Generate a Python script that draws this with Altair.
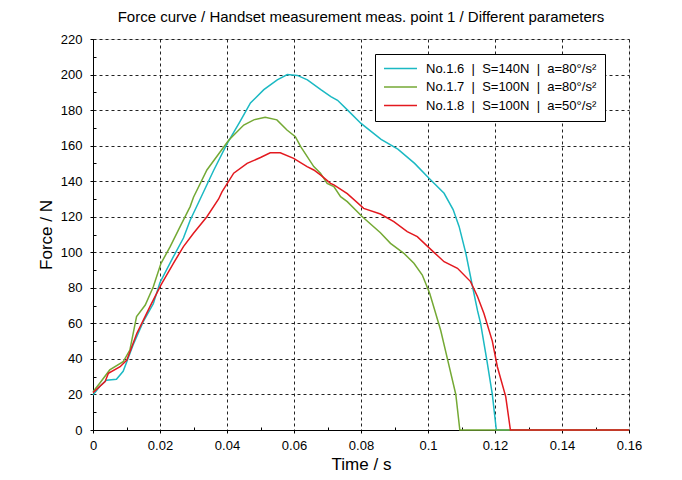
import altair as alt
import pandas as pd

# ---------------- data ----------------
SEP = "\u00a0\u00a0|\u00a0\u00a0"
series_names = [
    "No.1.6" + SEP + "S=140N" + SEP + "a=80°/s²",
    "No.1.7" + SEP + "S=100N" + SEP + "a=80°/s²",
    "No.1.8" + SEP + "S=100N" + SEP + "a=50°/s²",
]
series_colors = ["#1bb9c3", "#74a934", "#e3191f"]

t16 = [0.000, 0.002, 0.004, 0.007, 0.009, 0.010, 0.012, 0.015, 0.018, 0.020,
       0.024, 0.027, 0.029, 0.032, 0.036, 0.040, 0.044, 0.047, 0.051, 0.055,
       0.058, 0.061, 0.064, 0.068, 0.071, 0.073, 0.076, 0.080, 0.086, 0.091,
       0.096, 0.1003, 0.1048, 0.1075, 0.1093, 0.1113, 0.1133, 0.1148, 0.1157,
       0.1175, 0.1192, 0.1204, 0.160]
f16 = [19.7, 24.5, 28.0, 28.5, 33.0, 38.0, 48.0, 61.0, 71.0, 83.0,
       97.5, 108.0, 118.0, 130.0, 146.0, 161.0, 174.0, 184.0, 191.5, 197.0,
       200.0, 199.5, 197.0, 191.5, 187.6, 185.5, 180.0, 172.5, 163.5, 158.0,
       150.0, 141.6, 133.2, 124.0, 114.4, 99.4, 80.6, 67.0, 60.0,
       40.0, 20.0, 0.0, 0.0]

t17 = [0.000, 0.002, 0.005, 0.009, 0.011, 0.013, 0.0156, 0.018, 0.0203, 0.023,
       0.026, 0.029, 0.030, 0.034, 0.0405, 0.045, 0.048, 0.0514, 0.0549, 0.0579,
       0.0604, 0.062, 0.0659, 0.0679, 0.0699, 0.0719, 0.0739, 0.0759, 0.0804,
       0.0858, 0.0888, 0.0928, 0.0958, 0.0983, 0.1005, 0.1023, 0.1038, 0.1058,
       0.1083, 0.1095, 0.160]
f17 = [21.5, 26.3, 33.8, 38.4, 45.0, 63.8, 70.3, 80.6, 93.8, 103.0,
       114.4, 125.7, 131.0, 146.3, 163.0, 171.6, 174.5, 176.0, 174.5, 168.8,
       165.0, 159.4, 148.2, 144.5, 138.8, 137.0, 131.3, 128.5, 120.0,
       111.0, 105.0, 99.4, 93.8, 87.2, 76.9, 65.6, 56.0, 40.0,
       20.0, 0.0, 0.0]

t18 = [0.000, 0.0036, 0.0046, 0.0081, 0.0101, 0.0131, 0.017, 0.0203, 0.024, 0.027,
       0.030, 0.034, 0.0375, 0.0385, 0.042, 0.046, 0.050, 0.0529, 0.0559, 0.0599,
       0.0639, 0.0659, 0.0679, 0.0709, 0.0719, 0.0759, 0.0808, 0.0858, 0.0898,
       0.0938, 0.0968, 0.1005, 0.1048, 0.1088, 0.1127, 0.1148, 0.1167, 0.1192,
       0.1207, 0.1232, 0.1246, 0.160]
f18 = [21.0, 27.2, 31.9, 35.6, 39.4, 54.4, 69.4, 81.6, 93.8, 103.2,
       110.7, 120.0, 130.0, 134.0, 144.5, 150.0, 153.3, 156.0, 156.0, 152.8,
       148.2, 146.3, 143.5, 138.8, 137.9, 133.0, 124.7, 121.5, 117.2,
       111.6, 108.8, 102.2, 94.7, 91.0, 83.5, 75.0, 65.6, 50.0,
       35.6, 18.8, 0.0, 0.0]

x_major = [0, 0.02, 0.04, 0.06, 0.08, 0.1, 0.12, 0.14, 0.16]
x_minor = [0.01, 0.03, 0.05, 0.07, 0.09, 0.11, 0.13, 0.15]
y_major = [0, 20, 40, 60, 80, 100, 120, 140, 160, 180, 200, 220]
y_minor = [10, 30, 50, 70, 90, 110, 130, 150, 170, 190, 210]

# ---------------- table ----------------
rows = []
for name, ts, fs in zip(series_names, [t16, t17, t18], [f16, f17, f18]):
    for i, (t, f) in enumerate(zip(ts, fs)):
        rows.append({"series": name, "t": t, "F": f, "i": i})
df = pd.DataFrame(rows)

FONT = "Liberation Sans"
x_scale = alt.Scale(domain=[0, 0.16], nice=False, zero=False)
y_scale = alt.Scale(domain=[0, 220], nice=False, zero=False)

lines = alt.Chart(df).mark_line(strokeWidth=1.5).encode(
    x=alt.X("t:Q", scale=x_scale, axis=alt.Axis(
        values=x_major, format="~g", title="Time / s",
        grid=True, gridDash=[3, 3], gridColor="#222", gridWidth=1,
        tickSize=3, tickColor="black", domainColor="black", domainWidth=1,
        labelPadding=6, labelFontSize=13, labelColor="black", labelFont=FONT,
        titleFontSize=17, titleFontWeight="normal", titleColor="black",
        titleFont=FONT, titlePadding=4, labelFlush=False)),
    y=alt.Y("F:Q", scale=y_scale, axis=alt.Axis(
        values=y_major, format="d", title="Force / N",
        grid=True, gridDash=[3, 3], gridColor="#222", gridWidth=1,
        tickSize=3, tickColor="black", domainColor="black", domainWidth=1,
        labelPadding=8, labelFontSize=13, labelColor="black", labelFont=FONT,
        titleFontSize=17, titleFontWeight="normal", titleColor="black",
        titleFont=FONT, titlePadding=5, labelFlush=False)),
    color=alt.Color("series:N",
                    scale=alt.Scale(domain=series_names, range=series_colors),
                    legend=alt.Legend(
                        title=None, orient="none", legendX=282, legendY=15,
                        strokeColor="black", fillColor="white", padding=8,
                        symbolType="M-1,0H5", symbolSize=121,
                        symbolStrokeWidth=1.5, labelOffset=30,
                        labelFontSize=13, labelFont=FONT, labelColor="black",
                        rowPadding=4.5, labelLimit=400)),
    order="i:Q",
)

minor_x = alt.Chart(df).mark_line(opacity=0).encode(
    x=alt.X("t:Q", scale=x_scale, axis=alt.Axis(
        orient="bottom", values=x_minor, labels=False, domain=False,
        grid=False, tickSize=3, offset=-3, title=None, tickColor="black")),
    y=alt.Y("F:Q", scale=y_scale, axis=None),
)

minor_y = alt.Chart(df).mark_line(opacity=0).encode(
    x=alt.X("t:Q", scale=x_scale, axis=None),
    y=alt.Y("F:Q", scale=y_scale, axis=alt.Axis(
        orient="left", values=y_minor, labels=False, domain=False,
        grid=False, tickSize=3, offset=-3, title=None, tickColor="black")),
)

chart = alt.layer(lines, minor_x, minor_y).resolve_axis(
    x="independent", y="independent"
).properties(
    width=536, height=391,
    padding={"left": 85, "top": 31, "right": 40, "bottom": 43},
    autosize=alt.AutoSizeParams(type="none"),
    title=alt.Title(
        "Force curve / Handset measurement meas. point 1 / Different parameters",
        fontSize=15, fontWeight="normal", font=FONT, color="black",
        anchor="middle", frame="group", baseline="bottom", offset=12, dy=19),
).configure_view(stroke="black", strokeWidth=1).configure(background="white")

chart.save("out.html", embed_options={"renderer": "svg", "actions": False})
